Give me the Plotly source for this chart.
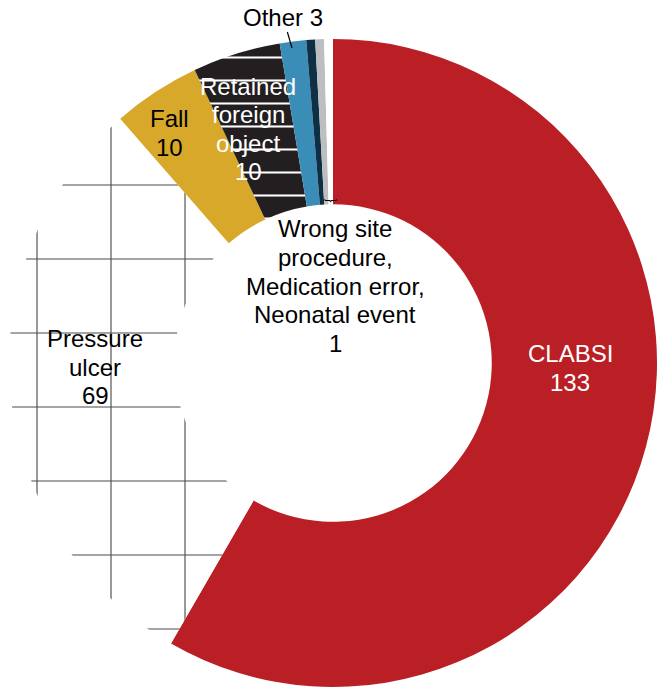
import plotly.graph_objects as go

# Adverse event counts by type
categories = [
    "CLABSI",
    "Pressure ulcer",
    "Fall",
    "Retained foreign object",
    "Other",
    "Wrong site procedure",
    "Medication error",
    "Neonatal event",
]
counts = [133, 69, 10, 10, 3, 1, 1, 1]

slice_colors = ["#BA1F25", "#FFFFFF", "#D8A82A", "#231F20", "#3A8DB6", "#0E2F44", "#BDBEC0", "#FFFFFF"]
pattern_shapes = ["", "+", "", "-", "", "", "", ""]
pattern_fg = ["#000000", "#4A4A4A", "#000000", "#FFFFFF", "#000000", "#000000", "#000000", "#000000"]
pattern_size = [8, 74, 8, 23, 8, 8, 8, 8]
pattern_solidity = [0.3, 0.03, 0.3, 0.09, 0.3, 0.3, 0.3, 0.3]

W, H = 657, 689
FONT = "Liberation Sans, Arial, sans-serif"
FONT_SIZE = 24
LINE_GAP = 28.6

fig = go.Figure(
    go.Pie(
        labels=categories,
        values=counts,
        sort=False,
        direction="clockwise",
        rotation=0,
        hole=0.49,
        textinfo="none",
        hoverinfo="label+value",
        showlegend=False,
        domain=dict(x=[9 / W, 1.0], y=[2 / H, 650 / H]),
        marker=dict(
            colors=slice_colors,
            line=dict(width=0),
            pattern=dict(
                shape=pattern_shapes,
                fgcolor=pattern_fg,
                bgcolor=slice_colors,
                size=pattern_size,
                solidity=pattern_solidity,
                fillmode="replace",
            ),
        ),
    )
)


def px(x):
    return x / W


def py(y):
    return 1 - y / H


def note(lines, x, y, color="#000000"):
    """Stack the lines of a label around the centre point (x, y) in pixels."""
    top = y - LINE_GAP * (len(lines) - 1) / 2
    for i, line in enumerate(lines):
        fig.add_annotation(
            text=line, x=px(x), y=py(top + i * LINE_GAP), xref="paper", yref="paper",
            xanchor="center", yanchor="middle", showarrow=False,
            font=dict(family=FONT, size=FONT_SIZE, color=color),
        )


lbl = dict(zip(categories, counts))
note(["CLABSI", str(lbl["CLABSI"])], 570, 368, color="#FFFFFF")
note(["Pressure", "ulcer", str(lbl["Pressure ulcer"])], 95, 367)
note(["Fall", str(lbl["Fall"])], 169, 133)
note(["Retained", "foreign", "object", str(lbl["Retained foreign object"])], 248, 129, color="#FFFFFF")
note(
    ["Wrong site", "procedure,", "Medication error,", "Neonatal event", str(lbl["Neonatal event"])],
    335, 286,
)

# "Other" label with a short leader line to its slice
fig.add_annotation(
    text=f"Other {lbl['Other']}", x=px(292), y=py(48), xref="paper", yref="paper",
    ax=-9, ay=-31, showarrow=True, arrowhead=0, arrowwidth=1.2, arrowcolor="#000000",
    font=dict(family=FONT, size=FONT_SIZE, color="#000000"),
)

# brace grouping the three single-event slices
fig.add_annotation(
    text="\ufe38", x=px(330), y=py(193), xref="paper", yref="paper",
    showarrow=False, font=dict(family="Noto Sans CJK JP", size=13, color="#000000"),
)

fig.update_layout(
    width=W, height=H,
    margin=dict(l=0, r=0, t=0, b=0),
    paper_bgcolor="#FFFFFF",
    plot_bgcolor="#FFFFFF",
)

fig.write_html("out.html")
